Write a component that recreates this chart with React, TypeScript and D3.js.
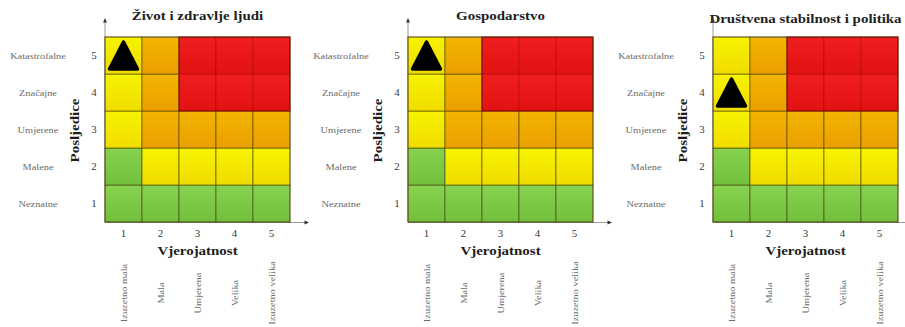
import React from "react";
import * as d3 from "d3";

// Risk matrix data: likelihood (columns) x consequence (rows)
const likelihoodValues = [1, 2, 3, 4, 5];
const consequenceValues = [1, 2, 3, 4, 5];
const likelihoodLabels = ["Izuzetno mala", "Mala", "Umjerena", "Velika", "Izuzetno velika"];
const consequenceLabels = ["Neznatne", "Malene", "Umjerene", "Značajne", "Katastrofalne"];

// Risk level per consequence row (1..5), one entry per likelihood column (1..5)
// 0 = nizak, 1 = umjeren, 2 = visok, 3 = vrlo visok
const riskLevels = [
  [0, 0, 0, 0, 0],
  [0, 1, 1, 1, 1],
  [1, 2, 2, 2, 2],
  [1, 2, 3, 3, 3],
  [1, 2, 3, 3, 3],
];

const panelTitles = ["Život i zdravlje ljudi", "Gospodarstvo", "Društvena stabilnost i politika"];
const assessedLikelihood = [1, 1, 1];
const assessedConsequence = [5, 5, 4];

const axisTitleX = "Vjerojatnost";
const axisTitleY = "Posljedice";

// Styling
const levelColors = [
  ["#88d24f", "#72c03c"],
  ["#f7f300", "#f0dc00"],
  ["#f3b500", "#eb9f00"],
  ["#f01e1e", "#e31212"],
];

const W = 905;
const H = 327;
const GRID_TOP = 37;
const GRID_SIZE = 185;
const PANEL_LEFT = [105, 408, 713];
const TITLE_Y = [20, 20, 23];
const FONT = "'Liberation Serif', 'Times New Roman', serif";
const STRETCH = 1.15;

type TProps = {
  x: number;
  y: number;
  rotate?: number;
  anchor?: "start" | "middle" | "end";
  size: number;
  weight?: string | number;
  fill?: string;
  children: React.ReactNode;
};

function Label({ x, y, rotate = 0, anchor = "middle", size, weight = "normal", fill = "#333", children }: TProps) {
  return (
    <text
      transform={`translate(${x},${y}) rotate(${rotate}) scale(${STRETCH},1)`}
      textAnchor={anchor}
      fontFamily={FONT}
      fontSize={size}
      fontWeight={weight}
      fill={fill}
    >
      {children}
    </text>
  );
}

function Panel({ index }: { index: number }) {
  const gx = PANEL_LEFT[index];
  const x = d3.scaleBand<number>().domain(likelihoodValues).range([0, GRID_SIZE]);
  const y = d3.scaleBand<number>().domain([...consequenceValues].reverse()).range([0, GRID_SIZE]);
  const bw = x.bandwidth();
  const bh = y.bandwidth();

  const cells = consequenceValues.flatMap((c, ri) =>
    likelihoodValues.map((l, ci) => ({ c, l, level: riskLevels[ri][ci] }))
  );

  const mx = x(assessedLikelihood[index])! + bw / 2;
  const my = y(assessedConsequence[index])! + bh / 2;
  const tri = d3.line()([
    [mx, my - 13.5],
    [mx + 14, my + 13.5],
    [mx - 14, my + 13.5],
  ]) + "Z";

  const redCells = cells.filter((d) => d.level === 3);
  const rx0 = d3.min(redCells, (d) => x(d.l)!)!;
  const rx1 = d3.max(redCells, (d) => x(d.l)! + bw)!;
  const ry0 = d3.min(redCells, (d) => y(d.c)!)!;
  const ry1 = d3.max(redCells, (d) => y(d.c)! + bh)!;

  return (
    <g>
      {/* title */}
      <Label x={gx + GRID_SIZE / 2} y={TITLE_Y[index]} size={13} weight="bold" fill="#1e1e1e">
        {panelTitles[index]}
      </Label>

      {/* axes with arrow tips */}
      <g stroke="#9a9a9a" strokeWidth={1}>
        <line x1={gx} y1={GRID_TOP + GRID_SIZE} x2={gx} y2={21} />
        <line x1={gx} y1={GRID_TOP + GRID_SIZE + 0.5} x2={gx + 201} y2={GRID_TOP + GRID_SIZE + 0.5} />
      </g>
      <path d={`M${gx},18 L${gx + 2},22.5 L${gx - 2},22.5Z`} fill="#333" />
      <path
        d={`M${gx + 204},${GRID_TOP + GRID_SIZE + 0.5} L${gx + 199.5},${GRID_TOP + GRID_SIZE - 1.5} L${gx + 199.5},${GRID_TOP + GRID_SIZE + 2.5}Z`}
        fill="#333"
      />

      {/* matrix */}
      <g transform={`translate(${gx},${GRID_TOP})`}>
        {cells.map((d) => (
          <rect
            key={`${d.c}-${d.l}`}
            x={x(d.l)}
            y={y(d.c)}
            width={bw}
            height={bh}
            fill={`url(#lvl${d.level})`}
            stroke={d.level === 3 ? "rgba(150,0,0,0.35)" : "rgba(70,60,10,0.6)"}
            strokeWidth={1}
          />
        ))}
        <rect
          x={rx0}
          y={ry0}
          width={rx1 - rx0}
          height={ry1 - ry0}
          fill="none"
          stroke="rgba(110,10,0,0.75)"
          strokeWidth={1.2}
        />
        <rect x={0} y={0} width={GRID_SIZE} height={GRID_SIZE} fill="none" stroke="rgba(70,60,10,0.6)" strokeWidth={1} />
        <path d={tri} fill="#000" stroke="#000" strokeWidth={3.5} strokeLinejoin="round" />
      </g>

      {/* y axis: numbers, category names, title */}
      {consequenceValues.map((c, i) => (
        <g key={c}>
          <Label x={gx - 11} y={GRID_TOP + y(c)! + bh / 2 + 3.3} size={9.5} fill="#3a3a3a">
            {c}
          </Label>
          <Label x={gx - 67} y={GRID_TOP + y(c)! + bh / 2 + 3} size={9} fill="#6a6a6a">
            {consequenceLabels[i]}
          </Label>
        </g>
      ))}
      <Label x={gx - 26} y={GRID_TOP + GRID_SIZE / 2 + 1} rotate={-90} size={13} weight="bold" fill="#1e1e1e">
        {axisTitleY}
      </Label>

      {/* x axis: numbers, title, category names */}
      {likelihoodValues.map((l, i) => (
        <g key={l}>
          <Label x={gx + x(l)! + bw / 2} y={236.5} size={9.5} fill="#3a3a3a">
            {l}
          </Label>
          <Label x={gx + x(l)! + bw / 2 + 3} y={293} rotate={-90} size={9} fill="#6a6a6a">
            {likelihoodLabels[i]}
          </Label>
        </g>
      ))}
      <Label x={gx + GRID_SIZE / 2} y={255} size={13} weight="bold" fill="#1e1e1e">
        {axisTitleX}
      </Label>
    </g>
  );
}

export default function App() {
  return (
    <svg
      width={W}
      height={H}
      viewBox={`0 0 ${W} ${H}`}
      style={{ position: "absolute", left: 0, top: 0, display: "block", background: "#fff" }}
    >
      <defs>
        {levelColors.map(([a, b], i) => (
          <linearGradient key={i} id={`lvl${i}`} x1="0" y1="0" x2="0" y2="1">
            <stop offset="0%" stopColor={a} />
            <stop offset="100%" stopColor={b} />
          </linearGradient>
        ))}
      </defs>
      <rect width={W} height={H} fill="#fff" />
      {panelTitles.map((_, i) => (
        <Panel key={i} index={i} />
      ))}
    </svg>
  );
}
